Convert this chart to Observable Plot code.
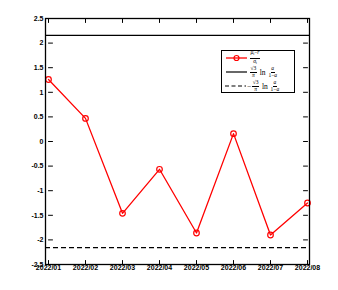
<!DOCTYPE html>
<html><head><meta charset="utf-8">
<script src="https://cdn.jsdelivr.net/npm/d3@7"></script>
<script src="https://cdn.jsdelivr.net/npm/@observablehq/plot@0.6"></script>
<style>
body{margin:0;background:#fff;}
#wrap{position:relative;width:338px;height:290px;font-family:"Liberation Sans",Arial,sans-serif;}
#legend{position:absolute;left:221px;top:50px;width:74px;height:43px;border:1px solid #000;background:#fff;box-sizing:border-box;}
.row{position:absolute;left:0;height:14px;display:flex;align-items:center;}
.row svg{flex:none;}
.txt{display:flex;align-items:center;font-family:"Liberation Serif","DejaVu Serif",serif;font-size:7.5px;color:#000;margin-left:1px;white-space:nowrap;}
.frac{display:inline-flex;flex-direction:column;align-items:center;font-size:5.5px;line-height:5.6px;margin:0 1px;}
.frac .n{border-bottom:0.7px solid #000;padding:0 0.5px;}
sub{font-size:3.5px;vertical-align:-1px;}
</style>
</head><body><div id="wrap"></div>
<script>
const months = ["2022/01","2022/02","2022/03","2022/04","2022/05","2022/06","2022/07","2022/08"];
const zScores = [1.26, 0.47, -1.46, -0.565, -1.86, 0.16, -1.90, -1.25];
const upperBound = 2.157;
const lowerBound = -2.157;
const yTicks = [-2.5, -2, -1.5, -1, -0.5, 0, 0.5, 1, 1.5, 2, 2.5];

const data = months.map((m, i) => ({month: m, z: zScores[i]}));
const tickShape = {draw(context, l) { context.moveTo(0, 0); context.lineTo(0, -l); }};
const tk = {length: 4, anchor: "start", shape: tickShape, stroke: "#000", strokeWidth: 1};

const chart = Plot.plot({
  width: 338, height: 290,
  marginLeft: 45, marginRight: 29, marginTop: 18, marginBottom: 26,
  style: {fontSize: "7px", fontFamily: "'Liberation Sans', Arial, sans-serif", fontWeight: "bold", color: "#000", background: "#fff"},
  x: {type: "point", domain: months, padding: 0},
  y: {domain: [-2.5, 2.5]},
  marks: [
    Plot.ruleY([upperBound], {stroke: "#000", strokeWidth: 1.2}),
    Plot.ruleY([lowerBound], {stroke: "#000", strokeWidth: 1.2, strokeDasharray: "5,3"}),
    Plot.line(data, {x: "month", y: "z", stroke: "#ff0000", strokeWidth: 1.3}),
    Plot.dot(data, {x: "month", y: "z", r: 2.8, stroke: "#ff0000", fill: "none", strokeWidth: 1.2}),
    Plot.vector(yTicks, {...tk, x: () => months[0], y: d => d, rotate: 90}),
    Plot.vector(yTicks, {...tk, x: () => months[months.length - 1], y: d => d, rotate: -90}),
    Plot.vector(months, {...tk, x: d => d, y: () => -2.5, rotate: 0}),
    Plot.vector(months, {...tk, x: d => d, y: () => 2.5, rotate: 180}),
    Plot.axisY(yTicks, {tickSize: 0, tickPadding: 2, tickFormat: d => String(d), label: null}),
    Plot.axisX({tickSize: 0, tickPadding: 1, label: null}),
    Plot.frame({stroke: "#000", strokeWidth: 1.3})
  ]
});
const wrap = document.getElementById("wrap");
wrap.appendChild(chart);

const sqrtFrac = '<span class="frac"><span class="n">√3</span><span><i>π</i></span></span>';
const aFrac = '<span class="frac"><span class="n"><i>a</i></span><span>1−<i>a</i></span></span>';
const legendItems = [
  {svg: '<svg width="26" height="14"><line x1="4" x2="25" y1="7" y2="7" stroke="#ff0000" stroke-width="1.3"/><circle cx="14.5" cy="7" r="2.5" fill="none" stroke="#ff0000" stroke-width="1.2"/></svg>',
   html: '<span class="frac"><span class="n"><i>μ</i><sub>t</sub>−<i>r</i></span><span><i>σ</i><sub>t</sub></span></span>'},
  {svg: '<svg width="26" height="14"><line x1="4" x2="25" y1="7" y2="7" stroke="#000" stroke-width="1.2"/></svg>',
   html: sqrtFrac + '&nbsp;ln&nbsp;' + aFrac},
  {svg: '<svg width="24" height="14"><line x1="3" x2="24" y1="7" y2="7" stroke="#000" stroke-width="1.2" stroke-dasharray="4,2.5"/></svg>',
   html: '−' + sqrtFrac + '&nbsp;ln&nbsp;' + aFrac}
];
const legend = document.createElement("div");
legend.id = "legend";
legendItems.forEach((it, i) => {
  const row = document.createElement("div");
  row.className = "row";
  row.style.top = (i * 14) + "px";
  row.innerHTML = it.svg + '<span class="txt">' + it.html + '</span>';
  legend.appendChild(row);
});
wrap.appendChild(legend);
</script>
</body></html>
